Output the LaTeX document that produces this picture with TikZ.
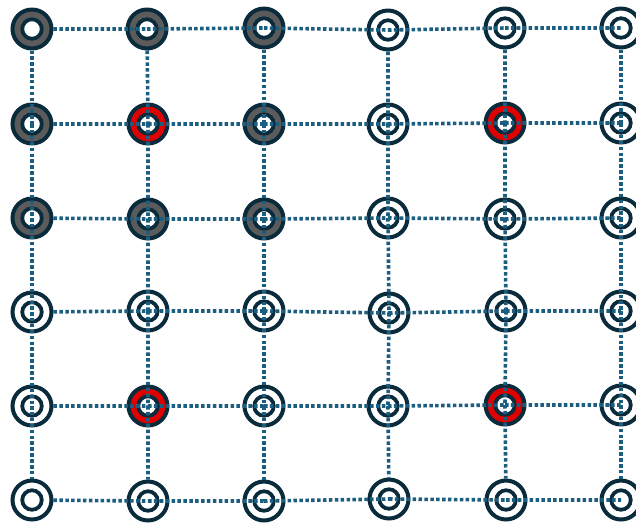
\documentclass[tikz,border=0pt]{standalone}
\usepackage{xcolor}
\usepackage{tikz}

\definecolor{ink}{HTML}{0A2B3B}
\definecolor{shade}{HTML}{5B5B5B}
\definecolor{hot}{HTML}{E00000}
\definecolor{linkblue}{HTML}{1B5E80}

\begin{document}
\begin{tikzpicture}[
    x=0.02cm, y=-0.02cm,
    site/.style={
        circle,
        draw=ink,
        line width=0.08cm,
        minimum size=0.78cm,
        inner sep=0pt,
        path picture={
            \draw[line width=0.075cm, draw=ink, fill=white]
                (path picture bounding box.center) circle (0.195cm);
        }
    },
    graysite/.style={site, fill=shade},
    redsite/.style={site, fill=hot},
    whitesite/.style={site, fill=white},
    link/.style={
        draw=linkblue,
        line width=0.072cm,
        dash pattern=on 0.07cm off 0.048cm
    }
]

\useasboundingbox (0,0) rectangle (636,522);

% Row 1
\node[graysite]  (v00) at (32,29) {};
\node[graysite]  (v10) at (147,29) {};
\node[graysite]  (v20) at (264,28) {};
\node[whitesite] (v30) at (388,30) {};
\node[whitesite] (v40) at (505,28) {};
\node[whitesite] (v50) at (621,28) {};

% Row 2
\node[graysite]  (v01) at (32,124) {};
\node[redsite]   (v11) at (148,124) {};
\node[graysite]  (v21) at (264,124) {};
\node[whitesite] (v31) at (388,124) {};
\node[redsite]   (v41) at (505,123) {};
\node[whitesite] (v51) at (621,123) {};

% Row 3
\node[graysite]  (v02) at (32,218) {};
\node[graysite]  (v12) at (148,219) {};
\node[graysite]  (v22) at (264,219) {};
\node[whitesite] (v32) at (388,218) {};
\node[whitesite] (v42) at (505,219) {};
\node[whitesite] (v52) at (621,218) {};

% Row 4
\node[whitesite] (v03) at (32,312) {};
\node[whitesite] (v13) at (148,311) {};
\node[whitesite] (v23) at (264,311) {};
\node[whitesite] (v33) at (389,313) {};
\node[whitesite] (v43) at (506,311) {};
\node[whitesite] (v53) at (621,311) {};

% Row 5
\node[whitesite] (v04) at (32,406) {};
\node[redsite]   (v14) at (148,406) {};
\node[whitesite] (v24) at (264,406) {};
\node[whitesite] (v34) at (388,406) {};
\node[redsite]   (v44) at (505,405) {};
\node[whitesite] (v54) at (621,405) {};

% Row 6
\node[whitesite] (v05) at (32,500) {};
\node[whitesite] (v15) at (148,501) {};
\node[whitesite] (v25) at (264,501) {};
\node[whitesite] (v35) at (389,499) {};
\node[whitesite] (v45) at (506,500) {};
\node[whitesite] (v55) at (621,500) {};

% Horizontal links
\draw[link] (v00) -- (v10.center) (v10.center) -- (v20.center) (v20.center) -- (v30.center)
    (v30.center) -- (v40.center) (v40.center) -- (v50.center);
\draw[link] (v01) -- (v11.center) (v11.center) -- (v21.center) (v21.center) -- (v31.center)
    (v31.center) -- (v41.center) (v41.center) -- (v51.center);
\draw[link] (v02) -- (v12.center) (v12.center) -- (v22.center) (v22.center) -- (v32.center)
    (v32.center) -- (v42.center) (v42.center) -- (v52.center);
\draw[link] (v03) -- (v13.center) (v13.center) -- (v23.center) (v23.center) -- (v33.center)
    (v33.center) -- (v43.center) (v43.center) -- (v53.center);
\draw[link] (v04) -- (v14.center) (v14.center) -- (v24.center) (v24.center) -- (v34.center)
    (v34.center) -- (v44.center) (v44.center) -- (v54.center);
\draw[link] (v05) -- (v15.center) (v15.center) -- (v25.center) (v25.center) -- (v35.center)
    (v35.center) -- (v45.center) (v45.center) -- (v55.center);

% Vertical links
\draw[link] (v00) -- (v01.center) (v01.center) -- (v02.center) (v02.center) -- (v03.center)
    (v03.center) -- (v04.center) (v04.center) -- (v05);
\draw[link] (v10) -- (v11.center) (v11.center) -- (v12.center) (v12.center) -- (v13.center)
    (v13.center) -- (v14.center) (v14.center) -- (v15);
\draw[link] (v20) -- (v21.center) (v21.center) -- (v22.center) (v22.center) -- (v23.center)
    (v23.center) -- (v24.center) (v24.center) -- (v25);
\draw[link] (v30) -- (v31.center) (v31.center) -- (v32.center) (v32.center) -- (v33.center)
    (v33.center) -- (v34.center) (v34.center) -- (v35);
\draw[link] (v40) -- (v41.center) (v41.center) -- (v42.center) (v42.center) -- (v43.center)
    (v43.center) -- (v44.center) (v44.center) -- (v45);
\draw[link] (v50) -- (v51.center) (v51.center) -- (v52.center) (v52.center) -- (v53.center)
    (v53.center) -- (v54.center) (v54.center) -- (v55);

\end{tikzpicture}
\end{document}
